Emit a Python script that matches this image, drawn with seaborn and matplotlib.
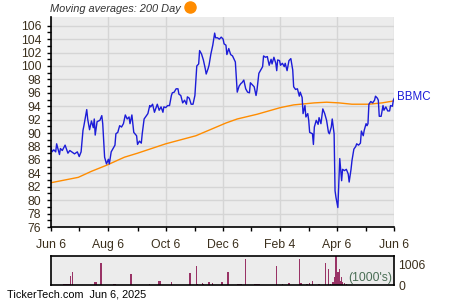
import numpy as np
import pandas as pd
import matplotlib
matplotlib.use("Agg")
import matplotlib.pyplot as plt
import seaborn as sns

# ---------------- data ----------------
start_date = "2024-06-06"
end_date = "2025-06-06"

price_day = [0, 1, 3, 5, 6, 9, 10, 12, 15, 18, 20, 22, 25, 28, 30, 32, 34, 35, 38, 39,
             41, 43, 45, 46, 47, 49, 52, 54, 55, 57, 59, 61, 62, 64, 66, 68, 69, 71, 73, 75,
             77, 79, 81, 83, 84, 86, 88, 91, 92,
             94, 96, 97, 99, 101, 103, 105, 106, 108, 110, 112, 113, 115, 117, 119, 120, 122,
             124, 126, 128, 129, 131, 133, 135, 136, 138, 140, 142, 144, 145, 147, 149, 151,
             153, 155, 157, 158, 160, 162, 164, 165, 167, 168, 170, 172, 174, 175, 177, 179,
             181, 183, 184,
             186, 187, 189, 191, 193, 195, 196, 198, 200, 202, 203, 205, 207, 209, 211, 212,
             214, 216, 218, 219, 221, 223, 225, 226, 228, 230, 232, 234, 235, 237, 239, 240,
             241, 243, 244, 246, 248, 249, 251, 253, 255, 257, 258, 260, 262, 264, 265, 267,
             268, 270, 271, 273, 274, 275, 278, 279,
             280, 282, 284, 285, 287, 289, 291, 293, 295, 296, 298, 299, 301, 302, 303, 305,
             307, 309, 310, 312, 314, 316, 317, 319, 320, 322, 324, 325, 327, 329, 330, 332,
             333, 335, 336, 337, 338, 340, 342, 344, 345, 347, 348, 349, 351, 353, 354, 356,
             358, 360, 361, 363, 364, 365]
price = [87.9, 87.2, 87.5, 87.2, 88.4, 86.8, 87.7, 87.4, 88.2, 87.0, 87.4, 87.2, 86.9, 87.2, 86.5, 87.2, 90.4, 91.1, 93.5, 92.1,
         90.5, 91.8, 90.8, 92.1, 89.7, 91.7, 91.9, 92.6, 91.4, 86.4, 85.4, 86.1, 85.4, 87.2, 87.7, 88.2, 89.9, 90.1, 91.1, 90.9,
         91.4, 92.7, 92.1, 92.4, 91.4, 92.7, 90.1, 89.6, 88.3,
         88.8, 88.5, 89.9, 92.1, 92.5, 92.9, 94.1, 93.9, 94.3, 93.1, 93.9, 94.3, 93.4, 93.9, 93.1, 93.9, 93.8,
         94.1, 94.1, 95.6, 96.0, 96.1, 96.6, 96.6, 95.8, 95.6, 94.5, 94.9, 94.3, 95.4, 95.2, 94.3, 94.3,
         95.6, 100.0, 100.3, 102.3, 101.8, 100.9, 99.6, 98.8, 99.6, 100.1, 101.8, 103.1, 104.9, 104.2, 104.2, 104.0,
         104.3, 104.0, 103.3,
         103.1, 101.7, 102.6, 101.7, 101.5, 100.9, 100.6, 96.1, 97.0, 97.4, 97.5, 97.9, 96.6, 96.1, 96.0, 97.5,
         97.2, 96.9, 95.6, 96.4, 98.9, 99.4, 99.9, 101.5, 101.3, 101.4, 100.1, 101.0, 100.3, 101.3, 100.4, 99.3,
         100.9, 100.8, 100.1, 100.4, 99.9, 100.4, 99.3, 100.8, 101.1, 99.4, 96.9, 96.5, 96.6, 95.5, 96.1, 95.3,
         92.9, 94.1, 92.4, 92.9, 91.9, 90.1, 89.9, 88.3,
         90.9, 91.9, 91.3, 92.3, 91.4, 93.6, 92.9, 91.9, 90.1, 89.9, 90.9, 92.1, 89.9, 81.4, 80.4, 78.9,
         86.2, 82.9, 84.6, 84.4, 84.6, 83.9, 82.7, 84.6, 85.9, 87.6, 88.0, 88.4, 88.2, 88.5, 90.3, 89.6,
         90.4, 91.4, 91.1, 91.4, 94.3, 94.7, 94.5, 94.9, 95.5, 95.2, 94.9, 92.5, 92.5, 94.1, 93.4, 93.9,
         93.3, 93.3, 94.1, 94.0, 94.9, 95.2]

ma_day = [0, 29, 43, 59, 78, 92, 122, 154, 186, 198, 219, 244, 258, 280, 293, 306, 320, 338, 352, 365]
ma200 = [82.6, 83.4, 84.3, 85.2, 86.4, 87.0, 88.4, 89.6, 91.5, 92.1, 92.8, 93.8, 94.2, 94.5, 94.6,
         94.5, 94.3, 94.3, 94.5, 94.8]

vol_day = [13, 15, 17, 19, 21, 23, 46, 48, 53, 67, 68, 85, 105, 114, 116, 128, 148, 155, 156, 161,
           162, 168, 172, 181, 182, 188, 199, 201, 202, 207, 217, 219, 221, 240, 246, 253, 264, 266,
           272, 275, 278, 285, 292, 295, 297, 300, 302, 303, 304, 305, 307, 308, 309, 310, 312, 314]
volume = [40, 50, 50, 50, 430, 630, 130, 130, 1070, 50, 50, 530, 50, 180, 180, 130, 590, 920, 50, 80,
          50, 130, 80, 130, 130, 630, 50, 50, 50, 1235, 50, 50, 60, 920, 50, 80, 1235, 100,
          50, 80, 210, 50, 1040, 790, 50, 130, 380, 1390, 300, 630, 790, 210, 380, 165, 100, 50]

major_dates = ["2024-06-06", "2024-08-06", "2024-10-06", "2024-12-06", "2025-02-04", "2025-04-06", "2025-06-06"]
major_labels = ["Jun 6", "Aug 6", "Oct 6", "Dec 6", "Feb 4", "Apr 6", "Jun 6"]
minor_dates = ["2024-07-06", "2024-09-06", "2024-11-06", "2025-01-05", "2025-03-07", "2025-05-07"]
y_ticks = list(range(76, 107, 2))
vol_ticks = [0, 1006]
vol_tick_labels = ["0", "1006"]

title_text = "Moving averages: 200 Day"
ticker = "BBMC"
footer = "TickerTech.com  Jun 6, 2025"
vol_unit = "(1000's)"

# ---------------- build frames ----------------
t0 = pd.Timestamp(start_date)
df_price = pd.DataFrame({"date": t0 + pd.to_timedelta(price_day, unit="D"), "price": price})
df_ma = pd.DataFrame({"date": t0 + pd.to_timedelta(ma_day, unit="D"), "ma": ma200})
df_vol = pd.DataFrame({"date": t0 + pd.to_timedelta(vol_day, unit="D"), "vol": volume})

# ---------------- style ----------------
plt.rcParams["font.family"] = ["Liberation Sans", "DejaVu Sans"]
txt_col = "#3b2f1c"
bg = "#ececec"
grid_col = "#d5d5d5"
blue = "#1c1cd8"
orange = "#ff8c00"
bar_col = "#993366"

fig = plt.figure(figsize=(4.5, 3.0), dpi=100)
W, H = 450, 300

def axrect(x0, y0, x1, y1):
    return [x0 / W, 1 - y1 / H, (x1 - x0) / W, (y1 - y0) / H]

ax = fig.add_axes(axrect(51, 17, 394.3, 227))
axv = fig.add_axes(axrect(51, 256, 394.3, 285))

xmin, xmax = pd.Timestamp(start_date), pd.Timestamp(end_date)

# main chart
ax.set_facecolor(bg)
sns.lineplot(data=df_ma, x="date", y="ma", ax=ax, color=orange, linewidth=1.0, estimator=None, sort=False)
sns.lineplot(data=df_price, x="date", y="price", ax=ax, color=blue, linewidth=1.0, estimator=None, sort=False)
ax.set_xlim(xmin, xmax)
ax.set_ylim(76, 107.3)
ax.set_yticks(y_ticks)
ax.set_yticks([v + 1 for v in y_ticks[:-1]], minor=True)
ax.set_xticks(pd.to_datetime(major_dates))
ax.set_xticklabels(major_labels)
ax.set_xticks(pd.to_datetime(minor_dates), minor=True)
ax.set_xlabel("")
ax.set_ylabel("")
ax.grid(True, which="major", color=grid_col, linewidth=1.0)
ax.set_axisbelow(True)
for s in ["top", "right"]:
    ax.spines[s].set_visible(False)
for s in ["left", "bottom"]:
    ax.spines[s].set_color("black")
    ax.spines[s].set_linewidth(1.2)
ax.tick_params(axis="both", which="both", direction="out", length=3, width=1, color="black",
               labelsize=8.8, labelcolor=txt_col)
ax.tick_params(axis="y", pad=4)
ax.tick_params(axis="x", pad=5.5)

# volume chart
axv.set_facecolor(bg)
axv.bar(df_vol["date"], df_vol["vol"], width=1.5, color=bar_col, linewidth=0)
axv.set_xlim(xmin, xmax)
axv.set_ylim(0, 1400)
axv.set_xticks([])
axv.yaxis.tick_right()
axv.set_yticks(vol_ticks)
axv.set_yticklabels(vol_tick_labels)
axv.tick_params(axis="y", length=0, pad=3, labelsize=8.8, labelcolor=txt_col)
for s in axv.spines.values():
    s.set_color("black")
    s.set_linewidth(1.2)
axv.text(0.995, 0.03, vol_unit, transform=axv.transAxes, ha="right", va="bottom",
         fontsize=8.8, color="#4a6e55")

# texts
fig.text(50 / W, 1 - 9 / H, title_text, ha="left", va="center", style="italic",
         fontsize=7.9, color="#333333")
fig.lines.append(plt.Line2D([190 / W], [1 - 7.3 / H], marker="o", markersize=8, color=orange,
                            transform=fig.transFigure, linestyle="none"))
fig.text(397 / W, 1 - 97.3 / H, ticker, ha="left", va="center", fontsize=8.3, color=blue)
fig.text(7 / W, 1 - 294.3 / H, footer, ha="left", va="center", fontsize=7.8, color="black")

fig.savefig("out.png", dpi=100)
